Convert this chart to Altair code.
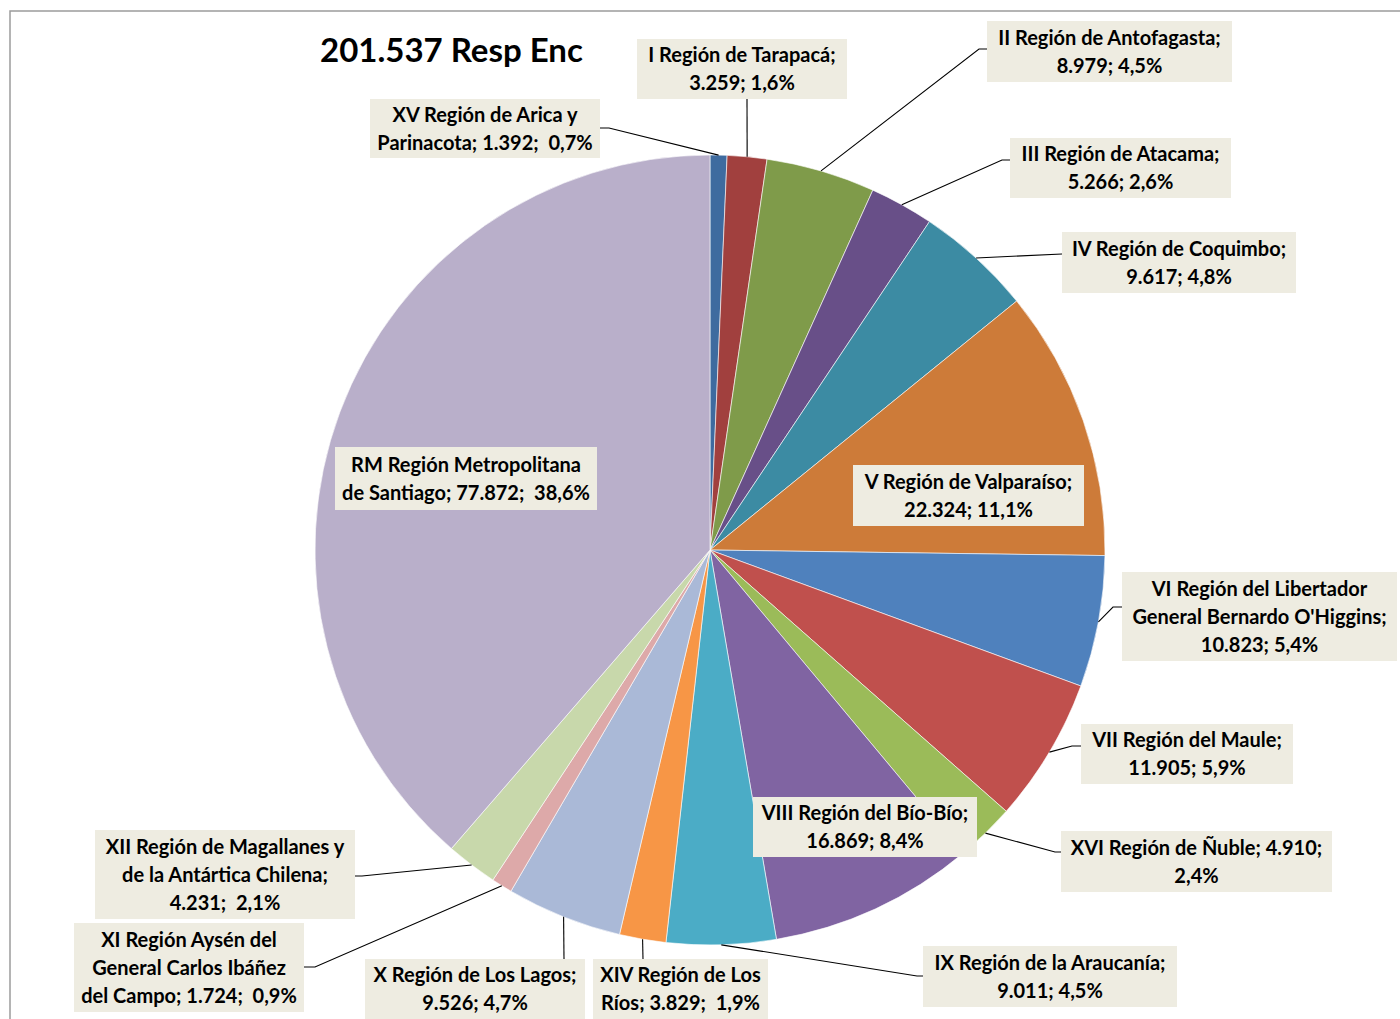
import math
import altair as alt
import pandas as pd

# ---------------- data ----------------
title_text = "201.537 Resp Enc"
regions = ["XV", "I", "II", "III", "IV", "V", "VI", "VII", "XVI", "VIII",
           "IX", "XIV", "X", "XI", "XII", "RM"]
values = [1392, 3259, 8979, 5266, 9617, 22324, 10823, 11905, 4910, 16869,
          9011, 3829, 9526, 1724, 4231, 77872]
NB = "\u00a0"
labels = [
    "XV Región de Arica y\nParinacota; 1.392;" + NB + " 0,7%",
    "I Región de Tarapacá;\n3.259; 1,6%",
    "II Región de Antofagasta;\n8.979; 4,5%",
    "III Región de Atacama;\n5.266; 2,6%",
    "IV Región de Coquimbo;\n9.617; 4,8%",
    "V Región de Valparaíso;\n22.324; 11,1%",
    "VI Región del Libertador\nGeneral Bernardo O'Higgins;\n10.823; 5,4%",
    "VII Región del Maule;\n11.905; 5,9%",
    "XVI Región de Ñuble; 4.910;\n2,4%",
    "VIII Región del Bío-Bío;\n16.869; 8,4%",
    "IX Región de la Araucanía;\n9.011; 4,5%",
    "XIV Región de Los\nRíos; 3.829;" + NB + " 1,9%",
    "X Región de Los Lagos;\n9.526; 4,7%",
    "XI Región Aysén del\nGeneral Carlos Ibáñez\ndel Campo; 1.724;" + NB + " 0,9%",
    "XII Región de Magallanes y\nde la Antártica Chilena;\n4.231;" + NB + " 2,1%",
    "RM Región Metropolitana\nde Santiago; 77.872;" + NB + " 38,6%",
]
colors = ["#3E6B9F", "#A1403E", "#7F9B4A", "#684F88", "#3C8BA3", "#CD7B39",
          "#4F81BD", "#C0504D", "#9BBB59", "#8064A2", "#4BACC6", "#F79646",
          "#AAB9D7", "#DDA9A9", "#C8D8AB", "#B9AFCA"]

# ---------------- layout ----------------
W, H = 1400, 1019
CX, CY, R = 710, 550, 395
FONT = "Lato, Roboto, sans-serif"
LABEL_SIZE = 20
LINE_H = 28
BOX_FILL = "#EEECE1"

# label boxes (left, top, right, bottom)
boxes = {
    "XV": (370, 99, 600, 158),
    "I": (637, 39, 847, 99),
    "II": (987, 21, 1232, 82),
    "III": (1010, 138, 1231, 198),
    "IV": (1062, 232, 1296, 293),
    "V": (853, 465, 1084, 526),
    "VI": (1122, 572, 1397, 661),
    "VII": (1081, 724, 1293, 784),
    "XVI": (1061, 831, 1332, 892),
    "VIII": (753, 797, 977, 857),
    "IX": (923, 946, 1177, 1007),
    "XIV": (593, 959, 768, 1019),
    "X": (365, 959, 585, 1019),
    "XI": (74, 923, 304, 1012),
    "XII": (95, 830, 355, 919),
    "RM": (335, 447, 597, 510),
}
# leader lines: elbow point, anchor point on the box
leaders = {
    "XV": [(609, 128), (600, 128)],
    "I": [(747, 99)],
    "II": [(979, 49), (987, 49)],
    "III": [(1002, 160), (1010, 160)],
    "IV": [(1062, 254)],
    "VI": [(1113, 607), (1122, 607)],
    "VII": [(1072, 746), (1081, 746)],
    "XVI": [(1055, 852), (1061, 852)],
    "IX": [(917, 976), (923, 976)],
    "XIV": [(643, 959)],
    "X": [(564, 959)],
    "XI": [(315, 967), (304, 967)],
    "XII": [(362, 876), (355, 876)],
}

# ---------------- tables ----------------
total = sum(values)
pie_df = pd.DataFrame({"region": regions, "value": values,
                       "idx": list(range(len(regions)))})

line_rows = []
cum = 0
for reg, v in zip(regions, values):
    mid = (cum + v / 2) / total * 2 * math.pi
    cum += v
    if reg not in leaders:
        continue
    sx = CX + R * math.sin(mid)
    sy = CY - R * math.cos(mid)
    pts = [(sx, sy)] + leaders[reg]
    for k, (px, py) in enumerate(pts):
        line_rows.append({"region": reg, "k": k, "x": px, "y": py})
line_df = pd.DataFrame(line_rows)

box_rows = []
for reg, lab in zip(regions, labels):
    l, t, r, b = boxes[reg]
    n = lab.count("\n") + 1
    box_rows.append({"region": reg, "l": l, "t": t, "r": r, "b": b,
                     "cx": (l + r) / 2,
                     "ty": (t + b) / 2 - (n - 1) * LINE_H / 2 + 1,
                     "label": lab})
box_df = pd.DataFrame(box_rows)

# ---------------- chart ----------------
border = alt.Chart(pd.DataFrame({"a": [0]})).mark_rect(
    fillOpacity=0, stroke="#9C9C9C", strokeWidth=1.5
).encode(x=alt.value(10), y=alt.value(11), x2=alt.value(1420), y2=alt.value(1040))

pie = alt.Chart(pie_df).mark_arc(
    radius=R, stroke="#FFFFFF", strokeWidth=0.6
).encode(
    theta=alt.Theta("value:Q", stack=True),
    color=alt.Color("region:N", scale=alt.Scale(domain=regions, range=colors),
                    legend=None),
    order=alt.Order("idx:Q", sort="ascending"),
    x=alt.value(CX),
    y=alt.value(CY),
)

lines = alt.Chart(line_df).mark_line(color="#000000", strokeWidth=1.1).encode(
    x=alt.X("x:Q", scale=None, axis=None),
    y=alt.Y("y:Q", scale=None, axis=None),
    detail="region:N",
    order="k:Q",
)

rects = alt.Chart(box_df).mark_rect(fill=BOX_FILL).encode(
    x=alt.X("l:Q", scale=None, axis=None),
    x2="r:Q",
    y=alt.Y("t:Q", scale=None, axis=None),
    y2="b:Q",
)

texts = alt.Chart(box_df).mark_text(
    font=FONT, fontSize=LABEL_SIZE, fontWeight="bold", color="#000000",
    align="center", baseline="middle", lineBreak="\n", lineHeight=LINE_H
).encode(
    x=alt.X("cx:Q", scale=None, axis=None),
    y=alt.Y("ty:Q", scale=None, axis=None),
    text="label:N",
)

title = alt.Chart(pd.DataFrame({"t": [title_text]})).mark_text(
    font=FONT, fontSize=33, fontWeight="bold", color="#000000",
    align="left", baseline="middle"
).encode(x=alt.value(320), y=alt.value(52), text="t:N")

chart = alt.layer(border, pie, lines, rects, texts, title).properties(
    width=W, height=H, autosize=alt.AutoSizeParams(type="none"), padding=0
).configure_view(stroke=None)

chart.save("out.html", embed_options={"renderer": "svg", "actions": False})
